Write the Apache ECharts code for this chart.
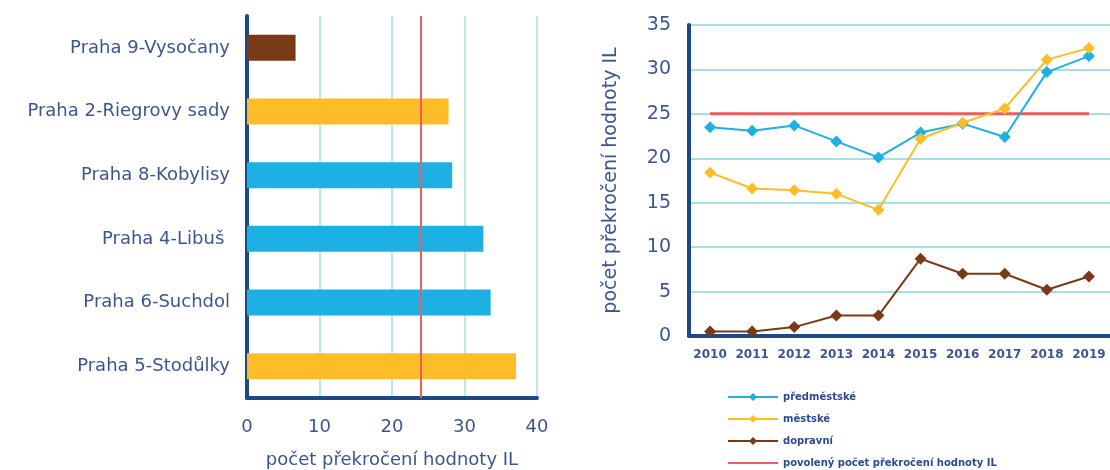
<!DOCTYPE html>
<html>
<head>
<meta charset="utf-8">
<script src="https://cdn.jsdelivr.net/npm/echarts@6/dist/echarts.min.js"></script>
<style>
  html, body { margin: 0; padding: 0; background: #fff; }
  #chart { width: 1110px; height: 470px; }
</style>
</head>
<body>
<div id="chart"></div>
<script>
// Stanice – počet překročení hodnoty IL
const stations = ['Praha 9-Vysočany', 'Praha 2-Riegrovy sady', 'Praha 8-Kobylisy', 'Praha 4-Libuš ', 'Praha 6-Suchdol', 'Praha 5-Stodůlky'];
const stationValues = [6.7, 27.8, 28.3, 32.6, 33.6, 37.1];
const stationTypes = ['dopravní', 'městské', 'předměstské', 'předměstské', 'předměstské', 'městské'];
const stationLimit = 24;
const barTicks = [0, 10, 20, 30, 40];

// Vývoj v letech
const years = ['2010', '2011', '2012', '2013', '2014', '2015', '2016', '2017', '2018', '2019'];
const predmestske = [23.5, 23.1, 23.7, 21.9, 20.1, 22.9, 23.9, 22.4, 29.7, 31.5];
const mestske = [18.4, 16.6, 16.4, 16.0, 14.2, 22.2, 24.0, 25.6, 31.1, 32.4];
const dopravni = [0.5, 0.5, 1.0, 2.3, 2.3, 8.7, 7.0, 7.0, 5.2, 6.7];
const povoleny = [25, 25, 25, 25, 25, 25, 25, 25, 25, 25];
const lineTicks = [0, 5, 10, 15, 20, 25, 30, 35];

const typeColors = { 'předměstské': '#1cb0e4', 'městské': '#fdbd28', 'dopravní': '#7a3a18' };
const limitColor = '#e8605c';
const navy = '#1c4883';
const textColor = '#3d5590';
const gridColor = '#a6dfe4';
const font = 'DejaVu Sans';
const limitName = 'povolený počet překročení hodnoty IL';

const chart = echarts.init(document.getElementById('chart'));
chart.setOption({
  animation: false,
  textStyle: { fontFamily: font },
  grid: [
    { left: 247, top: 16, width: 290, height: 382, outerBoundsMode: 'none', containLabel: false },
    { left: 689, top: 25, right: 0, height: 311, outerBoundsMode: 'none', containLabel: false }
  ],
  xAxis: [
    {
      gridIndex: 0, type: 'value',
      min: barTicks[0], max: barTicks[barTicks.length - 1], interval: 10,
      name: 'počet překročení hodnoty IL', nameLocation: 'middle', nameGap: 53,
      nameTextStyle: { color: textColor, fontSize: 18 },
      axisLine: { show: true, lineStyle: { color: navy, width: 4 } },
      axisTick: { show: false },
      axisLabel: { color: textColor, fontSize: 18, margin: 20 },
      splitLine: { show: true, lineStyle: { color: gridColor, width: 1.5 } }
    },
    {
      gridIndex: 1, type: 'category', data: years, boundaryGap: true,
      axisLine: { show: true, lineStyle: { color: navy, width: 4 } },
      axisTick: { show: false },
      axisLabel: { color: textColor, fontSize: 12, fontWeight: 'bold', margin: 13, interval: 0, hideOverlap: false },
      splitLine: { show: false }
    }
  ],
  yAxis: [
    {
      gridIndex: 0, type: 'category', data: stations, inverse: true,
      axisLine: { show: true, lineStyle: { color: navy, width: 4 } },
      axisTick: { show: false },
      axisLabel: { color: textColor, fontSize: 18, margin: 17 },
      splitLine: { show: false }
    },
    {
      gridIndex: 1, type: 'value',
      min: lineTicks[0], max: lineTicks[lineTicks.length - 1], interval: 5,
      name: 'počet překročení hodnoty IL', nameLocation: 'middle', nameGap: 68,
      nameTextStyle: { color: textColor, fontSize: 19 },
      axisLine: { show: true, lineStyle: { color: navy, width: 4 } },
      axisTick: { show: false },
      axisLabel: { color: textColor, fontSize: 19, margin: 18 },
      splitLine: { show: true, lineStyle: { color: gridColor, width: 2 } }
    }
  ],
  legend: {
    orient: 'vertical', left: 727, top: 392, height: 100, padding: 0,
    itemWidth: 50, itemHeight: 10, itemGap: 12,
    textStyle: { color: '#2c4a8c', fontSize: 10, fontWeight: 'bold' },
    data: ['předměstské', 'městské', 'dopravní', { name: limitName, itemStyle: { opacity: 0 } }]
  },
  series: [
    {
      type: 'bar', xAxisIndex: 0, yAxisIndex: 0, barWidth: 26,
      data: stationValues.map((v, i) => ({ value: v, itemStyle: { color: typeColors[stationTypes[i]] } })),
      markLine: {
        silent: true, symbol: 'none', label: { show: false },
        lineStyle: { color: limitColor, width: 2, type: 'solid' },
        data: [{ xAxis: stationLimit }]
      }
    },
    {
      name: limitName, type: 'line', xAxisIndex: 1, yAxisIndex: 1,
      data: povoleny, symbol: 'none', color: limitColor,
      lineStyle: { color: limitColor, width: 3 }
    },
    {
      name: 'předměstské', type: 'line', xAxisIndex: 1, yAxisIndex: 1,
      data: predmestske, symbol: 'diamond', symbolSize: 12, color: typeColors['předměstské'],
      lineStyle: { width: 2 }
    },
    {
      name: 'městské', type: 'line', xAxisIndex: 1, yAxisIndex: 1,
      data: mestske, symbol: 'diamond', symbolSize: 12, color: typeColors['městské'],
      lineStyle: { width: 2 }
    },
    {
      name: 'dopravní', type: 'line', xAxisIndex: 1, yAxisIndex: 1,
      data: dopravni, symbol: 'diamond', symbolSize: 12, color: typeColors['dopravní'],
      lineStyle: { width: 2 }
    }
  ]
});
</script>
</body>
</html>
